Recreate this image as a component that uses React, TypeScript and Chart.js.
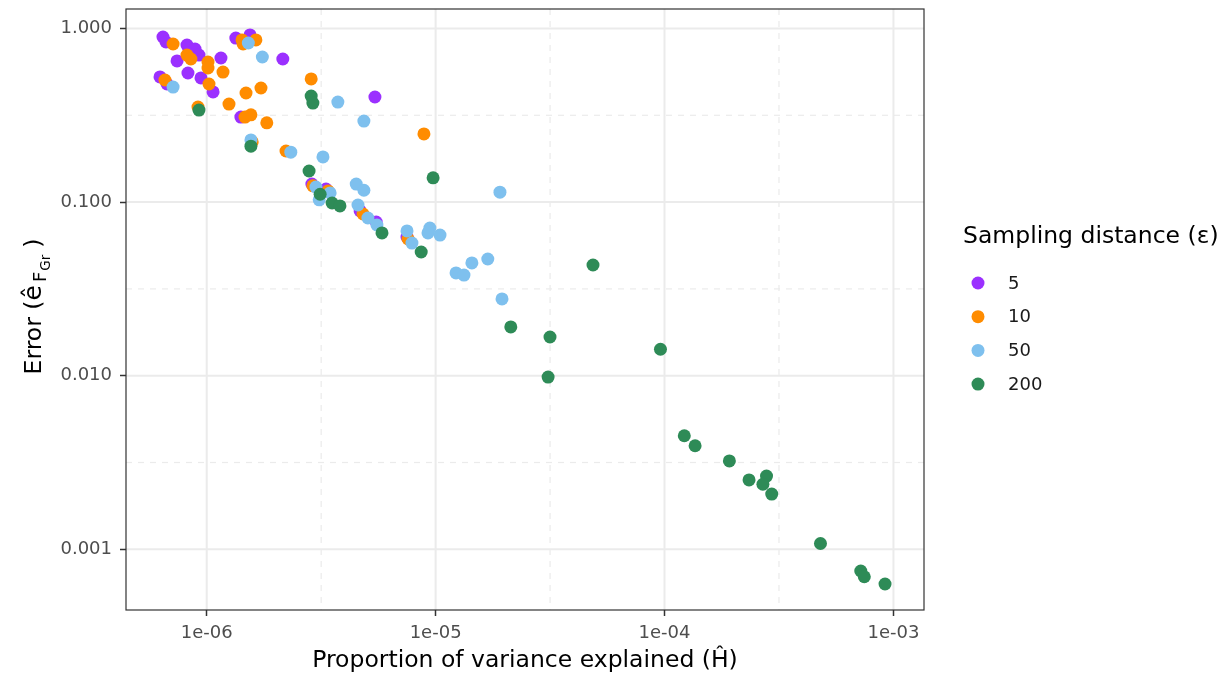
import React, { useEffect, useRef } from "react";
import { Chart, registerables } from "chart.js";

Chart.register(...registerables);

// ---------- data ----------
const seriesNames = ["5", "10", "50", "200"];
const seriesColors = ["#9B30FF", "#FF8C00", "#7EC0EE", "#2E8B57"];

const x5 = [6.44e-7, 6.64e-7, 8.2e-7, 8.89e-7, 7.42e-7, 8.28e-7, 9.44e-7, 1.066e-6, 6.25e-7, 6.71e-7, 1.154e-6, 1.34e-6, 1.546e-6, 2.15e-6, 5.43e-6, 1.41e-6, 2.88e-6, 3.32e-6, 4.68e-6, 5.5e-6, 7.5e-6, 9.25e-7];
const y5 = [0.893, 0.836, 0.803, 0.762, 0.65, 0.554, 0.519, 0.431, 0.526, 0.479, 0.676, 0.881, 0.918, 0.667, 0.403, 0.309, 0.127, 0.119, 0.0889, 0.0768, 0.0629, 0.703];

const x10 = [7.13e-7, 8.2e-7, 8.53e-7, 1.013e-6, 1.013e-6, 1.178e-6, 1.023e-6, 6.57e-7, 1.426e-6, 1.442e-6, 1.64e-6, 2.86e-6, 1.485e-6, 1.726e-6, 1.251e-6, 9.16e-7, 1.47e-6, 1.56e-6, 1.83e-6, 8.89e-6, 2.22e-6, 1.58e-6, 2.91e-6, 3.39e-6, 4.82e-6, 7.58e-6];
const y10 = [0.814, 0.703, 0.667, 0.641, 0.592, 0.561, 0.479, 0.505, 0.859, 0.814, 0.859, 0.512, 0.425, 0.454, 0.367, 0.353, 0.309, 0.318, 0.286, 0.247, 0.197, 0.222, 0.124, 0.116, 0.0854, 0.0613];

const x50 = [1.52e-6, 1.75e-6, 7.13e-7, 3.74e-6, 4.86e-6, 1.56e-6, 2.33e-6, 3.22e-6, 1.91e-5, 3.0e-6, 3.46e-6, 3.1e-6, 4.5e-6, 4.86e-6, 4.58e-6, 5.06e-6, 5.54e-6, 7.5e-6, 7.88e-6, 9.44e-6, 9.26e-6, 1.045e-5, 1.228e-5, 1.33e-5, 1.44e-5, 1.69e-5, 1.95e-5];
const y50 = [0.825, 0.685, 0.46, 0.377, 0.293, 0.228, 0.194, 0.182, 0.114, 0.122, 0.113, 0.103, 0.127, 0.117, 0.0962, 0.081, 0.0738, 0.0682, 0.0581, 0.0709, 0.0664, 0.0646, 0.0391, 0.038, 0.0446, 0.047, 0.0277];

const x200 = [9.25e-7, 2.86e-6, 2.91e-6, 1.56e-6, 2.8e-6, 3.13e-6, 3.53e-6, 3.82e-6, 9.75e-6, 5.83e-6, 8.65e-6, 4.87e-5, 2.13e-5, 3.16e-5, 3.1e-5, 9.6e-5, 1.22e-4, 1.36e-4, 1.92e-4, 2.34e-4, 2.79e-4, 2.69e-4, 2.94e-4, 4.8e-4, 7.2e-4, 7.46e-4, 9.19e-4];
const y200 = [0.339, 0.408, 0.372, 0.21, 0.151, 0.111, 0.0988, 0.095, 0.138, 0.0664, 0.0516, 0.0434, 0.0191, 0.0167, 0.00982, 0.0142, 0.00451, 0.00395, 0.00323, 0.00251, 0.00264, 0.00237, 0.00208, 0.00108, 0.00075, 0.000695, 0.000631];

const xTickValues = [1e-6, 1e-5, 1e-4, 1e-3];
const xTickLabels = ["1e-06", "1e-05", "1e-04", "1e-03"];
const yTickValues = [0.001, 0.01, 0.1, 1];
const yTickLabels = ["0.001", "0.010", "0.100", "1.000"];
const xMinorGrid = [3.162e-6, 3.162e-5, 3.162e-4];
const yMinorGrid = [0.3162, 0.03162, 0.003162];
const xRange = [4.44e-7, 1.36e-3];
const yRange = [4.47e-4, 1.295];

const xTitle = "Proportion of variance explained (Ĥ)";
const yTitleMain = "Error (";
const yTitleHat = "ê";
const yTitleSub1 = "F";
const yTitleSub2 = "Gr";
const yTitleEnd = ")";
const legendTitle = "Sampling distance (ε)";

const FONT = "'DejaVu Sans', 'Liberation Sans', sans-serif";

function toPoints(xs: number[], ys: number[]) {
  return xs.map((x, i) => ({ x, y: ys[i] }));
}

function labelFor(values: number[], labels: string[], v: number) {
  for (let i = 0; i < values.length; i++) {
    if (Math.abs(Math.log10(values[i]) - Math.log10(v)) < 1e-6) return labels[i];
  }
  return "";
}

const panelPlugin = {
  id: "panelDecor",
  beforeDatasetsDraw(chart: any) {
    const { ctx, chartArea: a, scales } = chart;
    ctx.save();
    ctx.beginPath();
    ctx.rect(a.left, a.top, a.right - a.left, a.bottom - a.top);
    ctx.clip();
    ctx.strokeStyle = "#EBEBEB";
    ctx.lineWidth = 1.2;
    ctx.setLineDash([6, 6]);
    for (const v of xMinorGrid) {
      const p = scales.x.getPixelForValue(v);
      ctx.beginPath();
      ctx.moveTo(p, a.top);
      ctx.lineTo(p, a.bottom);
      ctx.stroke();
    }
    for (const v of yMinorGrid) {
      const p = scales.y.getPixelForValue(v);
      ctx.beginPath();
      ctx.moveTo(a.left, p);
      ctx.lineTo(a.right, p);
      ctx.stroke();
    }
    ctx.setLineDash([]);
    ctx.lineWidth = 2;
    for (const v of xTickValues) {
      const p = scales.x.getPixelForValue(v);
      ctx.beginPath();
      ctx.moveTo(p, a.top);
      ctx.lineTo(p, a.bottom);
      ctx.stroke();
    }
    for (const v of yTickValues) {
      const p = scales.y.getPixelForValue(v);
      ctx.beginPath();
      ctx.moveTo(a.left, p);
      ctx.lineTo(a.right, p);
      ctx.stroke();
    }
    ctx.restore();
  },
  afterDraw(chart: any) {
    const { ctx, chartArea: a } = chart;
    ctx.save();
    ctx.strokeStyle = "#333333";
    ctx.lineWidth = 1.2;
    ctx.strokeRect(a.left, a.top, a.right - a.left, a.bottom - a.top);

    // x title
    ctx.fillStyle = "#000000";
    ctx.font = `23.5px ${FONT}`;
    ctx.textAlign = "center";
    ctx.textBaseline = "alphabetic";
    ctx.fillText(xTitle, (a.left + a.right) / 2, 667);

    // y title (rotated, with subscripts)
    const mainFont = `23.5px ${FONT}`;
    const hatFont = `25px ${FONT}`;
    const sub1Font = `18px ${FONT}`;
    const sub2Font = `13.5px ${FONT}`;
    ctx.font = mainFont;
    const wMain = ctx.measureText(yTitleMain).width;
    const wEnd = ctx.measureText(yTitleEnd).width;
    ctx.font = hatFont;
    const wHat = ctx.measureText(yTitleHat).width;
    ctx.font = sub1Font;
    const wS1 = ctx.measureText(yTitleSub1).width;
    ctx.font = sub2Font;
    const wS2 = ctx.measureText(yTitleSub2).width;
    const gapA = 3, gapB = 1, gapC = 7;
    const total = wMain + wHat + gapA + wS1 + gapB + wS2 + gapC + wEnd;
    ctx.translate(41, (a.top + a.bottom) / 2 - 3);
    ctx.rotate(-Math.PI / 2);
    ctx.textAlign = "left";
    let cx = -total / 2;
    ctx.font = mainFont;
    ctx.fillText(yTitleMain, cx, 0);
    cx += wMain;
    ctx.font = hatFont;
    ctx.fillText(yTitleHat, cx, 0);
    cx += wHat + gapA;
    ctx.font = sub1Font;
    ctx.fillText(yTitleSub1, cx, 5);
    cx += wS1 + gapB;
    ctx.font = sub2Font;
    ctx.fillText(yTitleSub2, cx, 9);
    cx += wS2 + gapC;
    ctx.font = mainFont;
    ctx.fillText(yTitleEnd, cx, 0);
    ctx.restore();

    // legend
    ctx.save();
    ctx.fillStyle = "#000000";
    ctx.font = `23.5px ${FONT}`;
    ctx.textAlign = "left";
    ctx.textBaseline = "alphabetic";
    ctx.fillText(legendTitle, 963, 243);
    ctx.font = `18px ${FONT}`;
    ctx.textBaseline = "middle";
    seriesNames.forEach((name, i) => {
      const cy = 283 + i * 33.7;
      ctx.fillStyle = seriesColors[i];
      ctx.beginPath();
      ctx.arc(978, cy, 6.5, 0, Math.PI * 2);
      ctx.fill();
      ctx.fillStyle = "#1A1A1A";
      ctx.fillText(name, 1008, cy + 1);
    });
    ctx.restore();
  },
};

export default function App() {
  const canvasRef = useRef<HTMLCanvasElement | null>(null);

  useEffect(() => {
    if (!canvasRef.current) return;
    const allX = [x5, x10, x50, x200];
    const allY = [y5, y10, y50, y200];
    const chart = new Chart(canvasRef.current, {
      type: "scatter",
      data: {
        datasets: seriesNames.map((name, i) => ({
          label: name,
          data: toPoints(allX[i], allY[i]),
          backgroundColor: seriesColors[i],
          borderWidth: 0,
          pointRadius: 6.5,
          pointHoverRadius: 6.5,
          order: seriesNames.length - i,
        })),
      },
      options: {
        animation: false,
        responsive: false,
        events: [],
        layout: { padding: { top: 9, right: 298, left: 0, bottom: 0 } },
        plugins: {
          legend: { display: false },
          tooltip: { enabled: false },
          title: { display: false },
        },
        scales: {
          x: {
            type: "logarithmic",
            min: xRange[0],
            max: xRange[1],
            afterBuildTicks: (s: any) => {
              s.ticks = xTickValues.map((v) => ({ value: v }));
            },
            afterFit: (s: any) => {
              s.height = 64;
              s.paddingLeft = 0;
              s.paddingRight = 0;
            },
            grid: {
              drawOnChartArea: false,
              drawTicks: true,
              tickLength: 6,
              tickColor: "#333333",
              tickWidth: 1.5,
            },
            border: { display: false },
            ticks: {
              autoSkip: false,
              maxRotation: 0,
              minRotation: 0,
              padding: 7,
              color: "#4D4D4D",
              font: { family: FONT, size: 18 },
              callback: (v: any) => labelFor(xTickValues, xTickLabels, Number(v)),
            },
          },
          y: {
            type: "logarithmic",
            min: yRange[0],
            max: yRange[1],
            afterBuildTicks: (s: any) => {
              s.ticks = yTickValues.map((v) => ({ value: v }));
            },
            afterFit: (s: any) => {
              s.width = 126;
              s.paddingTop = 0;
              s.paddingBottom = 0;
            },
            grid: {
              drawOnChartArea: false,
              drawTicks: true,
              tickLength: 6,
              tickColor: "#333333",
              tickWidth: 1.5,
            },
            border: { display: false },
            ticks: {
              autoSkip: false,
              padding: 8,
              color: "#4D4D4D",
              font: { family: FONT, size: 18 },
              callback: (v: any) => labelFor(yTickValues, yTickLabels, Number(v)),
            },
          },
        },
      },
      plugins: [panelPlugin],
    } as any);
    return () => chart.destroy();
  }, []);

  return (
    <div style={{ position: "absolute", left: 0, top: 0, width: 1222, height: 674, background: "#ffffff" }}>
      <canvas ref={canvasRef} width={1222} height={674} style={{ width: 1222, height: 674, display: "block" }} />
    </div>
  );
}
